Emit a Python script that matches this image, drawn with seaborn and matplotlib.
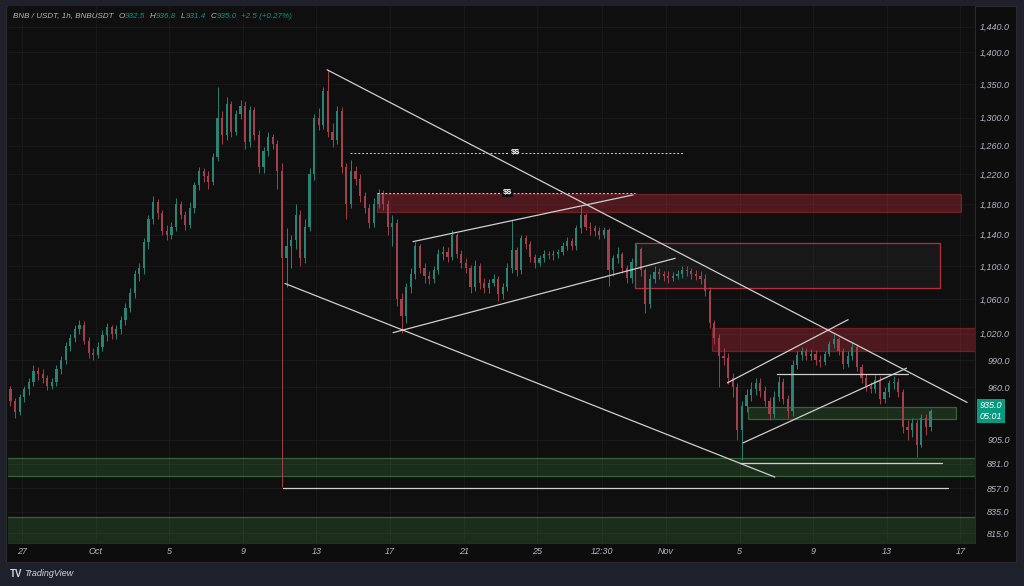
import numpy as np
import pandas as pd
import matplotlib
matplotlib.use("Agg")
import matplotlib.pyplot as plt
import matplotlib.transforms as mtransforms
from matplotlib.colors import to_rgba
from matplotlib.patches import Rectangle
from matplotlib.ticker import NullLocator
import seaborn as sns

# ---- data: 6h candles (first candle Sep 26 06:00) ----
first_open = 958
closes = [
    945, 934, 950,                       # Sep 26
    958, 966, 978, 975,  970, 962, 966, 980,  990, 1006, 1015, 1025,  1030, 1012, 998, 996,
    1005, 1018, 1027, 1020,  1025, 1036, 1050, 1068,  1090, 1098, 1130, 1160,  1182, 1168, 1145, 1140,
    1150, 1180, 1165, 1152,  1175, 1205, 1224, 1218,  1210, 1244, 1300, 1275,  1320, 1280, 1305, 1318,
    1265, 1312, 1275, 1230,  1252, 1272, 1262, 1225,  1110, 1125, 1133, 1165,  1110, 1150, 1220, 1300,
    1290, 1340, 1280, 1268,  1310, 1230, 1180, 1225,  1213, 1190, 1175, 1155,  1180, 1195, 1180, 1150,
    1155, 1060, 1040, 1075,  1090, 1125, 1098, 1088,  1085, 1095, 1115, 1118,  1112, 1140, 1115, 1104,
    1098, 1075, 1100, 1080,  1074, 1080, 1085, 1066,  1075, 1098, 1120, 1095,  1135, 1128, 1112, 1104,
    1110, 1116, 1114, 1115,  1118, 1126, 1132, 1125,  1148, 1165, 1150, 1148,  1144, 1140, 1146, 1095,
    1110, 1116, 1098, 1086,  1105, 1122, 1095, 1055,  1085, 1093, 1090, 1088,  1086, 1088, 1090, 1095,
    1094, 1090, 1088, 1084,  1070, 1032, 1015, 995,  992, 970, 960, 915,  940, 952, 958, 965,
    956, 945, 932, 950,  966, 948, 935, 985,  996, 1000, 995, 997,  990, 988, 997, 1008,
    1014, 1000, 986, 995,  1005, 982, 970, 962,  958, 968, 948, 955,  965, 966, 955, 918,
    915, 922, 900, 928,  918, 935,
]
highs = [
    962, 949, 953,
    962, 970, 984, 982,  980, 974, 970, 984,  994, 1010, 1020, 1030,  1036, 1034, 1016, 1004,
    1010, 1024, 1032, 1030,  1030, 1040, 1056, 1074,  1096, 1104, 1136, 1166,  1190, 1186, 1172, 1152,
    1156, 1188, 1184, 1170,  1182, 1210, 1230, 1228,  1225, 1250, 1345, 1310,  1330, 1325, 1312, 1326,
    1324, 1318, 1316, 1282,  1258, 1280, 1276, 1268,  1235, 1148, 1140, 1180,  1172, 1160, 1228, 1306,
    1315, 1345, 1372, 1292,  1318, 1316, 1236, 1240,  1232, 1220, 1196, 1180,  1188, 1200, 1198, 1185,
    1165, 1160, 1068, 1080,  1098, 1130, 1128, 1104,  1094, 1100, 1122, 1126,  1124, 1146, 1142, 1120,
    1110, 1102, 1108, 1104,  1086, 1084, 1090, 1088,  1080, 1104, 1159, 1124,  1140, 1140, 1132, 1116,
    1114, 1120, 1119, 1120,  1122, 1130, 1137, 1135,  1152, 1177, 1168, 1156,  1152, 1150, 1150, 1148,
    1114, 1124, 1118, 1102,  1110, 1128, 1124, 1098,  1090, 1100, 1098, 1094,  1094, 1093, 1096, 1100,
    1100, 1098, 1095, 1094,  1090, 1075, 1036, 1020,  1004, 998, 976, 965,  945, 958, 966, 970,
    970, 962, 950, 956,  972, 970, 952, 990,  1000, 1005, 1004, 1002,  1001, 996, 1000, 1012,
    1019, 1016, 1004, 1000,  1010, 1008, 986, 975,  966, 974, 972, 960,  968, 972, 970, 958,
    925, 928, 926, 932,  932, 937,
]
lows = [
    940, 928, 931,
    944, 952, 962, 968,  965, 957, 958, 962,  975, 986, 1000, 1010,  1020, 1008, 992, 990,
    992, 1000, 1012, 1014,  1014, 1020, 1030, 1045,  1062, 1082, 1090, 1122,  1154, 1160, 1140, 1133,
    1134, 1145, 1160, 1146,  1148, 1168, 1198, 1210,  1200, 1205, 1238, 1262,  1268, 1272, 1275, 1298,
    1255, 1258, 1268, 1222,  1222, 1245, 1255, 1200,  858, 1075, 1098, 1122,  1100, 1104, 1145, 1212,
    1282, 1284, 1272, 1258,  1262, 1222, 1160, 1175,  1206, 1182, 1168, 1148,  1150, 1175, 1172, 1140,
    1125, 1052, 1021, 1032,  1068, 1085, 1092, 1080,  1078, 1080, 1090, 1108,  1106, 1108, 1110, 1098,
    1092, 1068, 1070, 1072,  1068, 1068, 1076, 1058,  1060, 1070, 1092, 1088,  1090, 1122, 1106, 1098,
    1100, 1106, 1109, 1108,  1110, 1114, 1121, 1120,  1120, 1142, 1146, 1140,  1138, 1134, 1136, 1076,
    1088, 1104, 1092, 1080,  1080, 1100, 1088, 1044,  1050, 1080, 1084, 1082,  1080, 1082, 1084, 1086,
    1088, 1085, 1083, 1078,  1064, 1026, 1008, 961,  985, 964, 950, 905,  885, 934, 946, 952,
    950, 940, 926, 928,  946, 942, 928, 930,  980, 990, 990, 990,  985, 982, 984, 994,
    1004, 996, 980, 982,  990, 978, 965, 956,  954, 954, 942, 943,  950, 958, 950, 912,
    905, 908, 888, 898,  910, 914,
]

# drawings on the chart
trend_names = ["top", "lower", "ch_low", "ch_up", "r_up", "r_low"]
trend_start = ["2025-10-13 14:00", "2025-10-11 07:00", "2025-10-17 04:00",
               "2025-10-18 06:00", "2025-11-04 08:00", "2025-11-05 04:30"]
trend_end = ["2025-11-17 08:40", "2025-11-06 22:00", "2025-11-01 12:00",
             "2025-10-30 05:00", "2025-11-10 21:30", "2025-11-14 01:40"]
trend_p0 = [1372, 1079, 1021, 1131, 965, 902]
trend_p1 = [944, 868, 1110, 1192, 1036, 981]

hline_price = [857.5, 882, 975]
hline_start = ["2025-10-11 04:20", "2025-11-05 00:30", "2025-11-07 00:45"]
hline_end = ["2025-11-16 08:00", "2025-11-16 00:00", "2025-11-14 03:40"]

liq_price = [1250, 1195]
liq_start = ["2025-10-14 20:00", "2025-10-16 07:00"]
liq_end = ["2025-11-01 22:00", "2025-10-30 07:40"]
liq_label_at = ["2025-10-23 20:00", "2025-10-23 08:40"]

zone_kind = ["supply", "box", "supply", "demand", "demand", "demand"]
zone_start = ["2025-10-16 07:00", "2025-10-30 07:40", "2025-11-03 12:00",
              "2025-11-05 11:00", "2025-09-20 00:00", "2025-09-20 00:00"]
zone_end = ["2025-11-17 00:45", "2025-11-15 21:30", "2025-11-20 00:00",
            "2025-11-16 18:00", "2025-11-20 00:00", "2025-11-20 00:00"]
zone_lo = [1169, 1073, 1000, 927, 869.5, 790]
zone_hi = [1193, 1129, 1026.5, 939, 887, 829.5]

ytick_vals = [1440, 1400, 1350, 1300, 1260, 1220, 1180, 1140, 1100, 1060,
              1020, 990, 960, 905, 881, 857, 835, 815]
xtick_dates = ["2025-09-27 00:00", "2025-10-01 00:00", "2025-10-05 00:00", "2025-10-09 00:00",
               "2025-10-13 00:00", "2025-10-17 00:00", "2025-10-21 00:00", "2025-10-25 00:00",
               "2025-10-28 12:30", "2025-11-01 00:00", "2025-11-05 00:00", "2025-11-09 00:00",
               "2025-11-13 00:00", "2025-11-17 00:00"]
xtick_labels = ["27", "Oct", "5", "9", "13", "17", "21", "25", "12:30", "Nov", "5", "9", "13", "17"]

symbol = "BNB / USDT, 1h, BNBUSDT"
ohlc_keys = ["O", "H", "L", "C"]
ohlc_vals = ["932.5", "936.8", "931.4", "935.0"]
change_txt = "+2.5 (+0.27%)"
last_price = 935.0
countdown = "05:01"

# ---- style ----
BG = "#0f0f0f"
FRAME = "#1e212b"
TXT = "#b2b5be"
UP = "#2a8475"
DOWN = "#a3404d"
TEAL = "#089981"
LINE = "#cfcfcf"

sns.set_style("dark", {"axes.facecolor": BG, "figure.facecolor": FRAME,
                       "axes.edgecolor": "#2a2a2a", "grid.color": "#1a1a1a"})
plt.rcParams["font.family"] = ["Liberation Sans", "DejaVu Sans"]
plt.rcParams["text.parse_math"] = False

fig = plt.figure(figsize=(10.24, 5.86), dpi=100)
W, H = 1024, 586
fig.add_artist(Rectangle((6 / W, 1 - 562 / H), 1010 / W, 556 / H, transform=fig.transFigure,
                         facecolor="#0d0d0d", edgecolor="#2a2a2a", lw=0.8, zorder=0))
ax = fig.add_axes([8 / W, 1 - 543 / H, 967 / W, 537 / H])
ax.set_facecolor(BG)

# candles
times = pd.date_range("2025-09-26 06:00", periods=len(closes), freq="6h") + pd.Timedelta(hours=3)
c = np.array(closes, dtype=float)
o = np.concatenate([[first_open], c[:-1]])
cols = np.where(c >= o, UP, DOWN)
ax.vlines(times, lows, highs, colors=cols, linewidth=0.7, zorder=3)
ax.bar(times, np.maximum(np.abs(c - o), 1.0), bottom=np.minimum(o, c), width=0.12,
       color=cols, linewidth=0, zorder=3)

ax.set_yscale("log")

# zones
for kind, t0, t1, lo, hi in zip(zone_kind, zone_start, zone_end, zone_lo, zone_hi):
    if kind == "supply":
        fc, ec = to_rgba("#f23645", 0.28), to_rgba("#f23645", 0.35)
    elif kind == "box":
        fc, ec = to_rgba("#ffffff", 0.04), to_rgba("#c8323f", 0.9)
    else:
        fc, ec = to_rgba("#4caf50", 0.2), to_rgba("#5cb860", 0.45)
    ax.fill_between(pd.to_datetime([t0, t1]), lo, hi, facecolor=fc, edgecolor=ec,
                    linewidth=0.9, zorder=2)

# trend lines + horizontal levels
rows = []
for name, t0, t1, p0, p1 in zip(trend_names, trend_start, trend_end, trend_p0, trend_p1):
    rows.append({"seg": name, "t": pd.Timestamp(t0), "p": p0})
    rows.append({"seg": name, "t": pd.Timestamp(t1), "p": p1})
for i, (p, t0, t1) in enumerate(zip(hline_price, hline_start, hline_end)):
    rows.append({"seg": f"h{i}", "t": pd.Timestamp(t0), "p": p})
    rows.append({"seg": f"h{i}", "t": pd.Timestamp(t1), "p": p})
lines_df = pd.DataFrame(rows)
sns.lineplot(data=lines_df, x="t", y="p", units="seg", estimator=None, color=LINE,
             linewidth=0.9, ax=ax, legend=False, zorder=4)

# liquidity ($$) dashed levels
for p, t0, t1, tl in zip(liq_price, liq_start, liq_end, liq_label_at):
    ax.plot(pd.to_datetime([t0, t1]), [p, p], color=LINE, lw=0.7, ls=(0, (2, 2)), zorder=4)
    ax.text(pd.Timestamp(tl), p, "$$", color="white", fontsize=6, fontweight="bold",
            ha="center", va="center", zorder=5,
            bbox=dict(boxstyle="square,pad=0.1", fc=BG, ec="none"))

# axes
ax.set_xlim(pd.Timestamp("2025-09-26 05:45"), pd.Timestamp("2025-11-17 19:00"))
ax.set_ylim(806, 1474)
ax.set_xlabel("")
ax.set_ylabel("")
ax.yaxis.tick_right()
ax.set_yticks(ytick_vals)
ax.set_yticklabels([f"{v:,.1f}" for v in ytick_vals])
ax.yaxis.set_minor_locator(NullLocator())
ax.set_xticks(pd.to_datetime(xtick_dates))
ax.set_xticklabels(xtick_labels)
ax.tick_params(axis="y", length=0, pad=25, labelsize=6.5, labelcolor=TXT)
ax.tick_params(axis="x", length=0, pad=3, labelsize=6.5, labelcolor=TXT)
for lbl in ax.get_yticklabels():
    lbl.set_horizontalalignment("right")
    lbl.set_fontstyle("italic")
for lbl in ax.get_xticklabels():
    lbl.set_fontstyle("italic")
ax.grid(True, color="#1a1a1a", lw=0.6, zorder=0)
for side in ["top", "left"]:
    ax.spines[side].set_visible(False)
for side in ["right", "bottom"]:
    ax.spines[side].set_color("#2a2a2a")
    ax.spines[side].set_linewidth(0.8)

# last price tag
trans = mtransforms.blended_transform_factory(ax.transAxes, ax.transData)
ax.text(1 + 16 / 967, last_price, f"{last_price:.1f}\n{countdown}", transform=trans,
        ha="center", va="center", fontsize=6.5, color="white", fontstyle="italic",
        linespacing=1.2, clip_on=False, zorder=6,
        bbox=dict(boxstyle="square,pad=0.3", fc=TEAL, ec="none"))

# header: symbol, then O/H/L/C pairs and the change, laid out one after another
hs = dict(fontsize=5.8, fontstyle="italic", va="center", ha="left")
hy = 1 - 16 / H
header = [fig.text(13 / W, hy, symbol, color=TXT, **hs)]
gaps = []
for key, val in zip(ohlc_keys, ohlc_vals):
    header.append(fig.text(0, hy, key, color=TXT, **hs)); gaps.append(5)
    header.append(fig.text(0, hy, val, color=TEAL, **hs)); gaps.append(0)
header.append(fig.text(0, hy, change_txt, color=TEAL, **hs)); gaps.append(4)

fig.canvas.draw()
renderer = fig.canvas.get_renderer()
x_px = header[0].get_window_extent(renderer).x1
for t, gap in zip(header[1:], gaps):
    t.set_x((x_px + gap) / W)
    x_px = t.get_window_extent(renderer).x1

# watermark
fig.text(10 / W, 1 - 574 / H, "TV", color="#d1d4dc", fontsize=7, fontweight="bold", va="center")
fig.text(24 / W, 1 - 574 / H, "TradingView", color="#d1d4dc", fontsize=6.5,
         fontstyle="italic", va="center")

fig.savefig("out.png", dpi=100, facecolor=FRAME)
